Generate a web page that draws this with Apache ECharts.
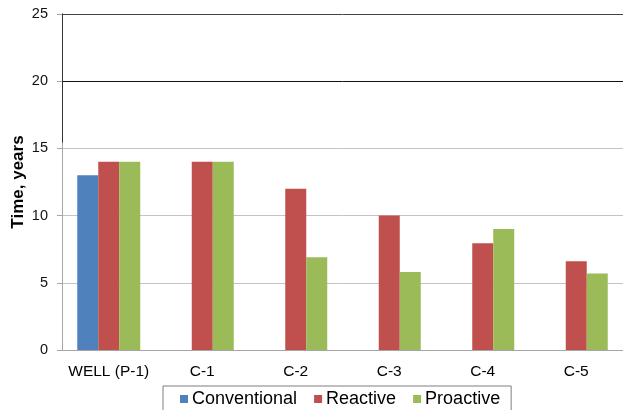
<!DOCTYPE html>
<html>
<head>
<meta charset="utf-8">
<script src="https://cdn.jsdelivr.net/npm/echarts@6/dist/echarts.min.js"></script>
<style>
  html, body { margin: 0; padding: 0; background: #fff; }
  #chart { width: 623px; height: 410px; }
</style>
</head>
<body>
<div id="chart"></div>
<script>
// Service time per location under three maintenance strategies
const categories = ['WELL (P-1)', 'C-1', 'C-2', 'C-3', 'C-4', 'C-5'];
const conventional = [13, null, null, null, null, null];
const reactive = [14, 14, 12, 10, 7.95, 6.6];
const proactive = [14, 14, 6.9, 5.8, 9, 5.7];
const yTicks = { min: 0, max: 25, interval: 5 };

const font = 'Liberation Sans, Arial, sans-serif';
const chart = echarts.init(document.getElementById('chart'));

const bar = (name, data, color) => ({
  name, type: 'bar', data,
  xAxisIndex: 0, yAxisIndex: 0,
  barGap: '0%', barWidth: 21,
  itemStyle: { color },
  emphasis: { disabled: true }
});

chart.setOption({
  animation: false,
  textStyle: { fontFamily: font },
  grid: [
    { left: 62, right: 0, top: 14, bottom: 60, outerBoundsMode: 'none', containLabel: false },
    // upper part of the value axis is drawn darker
    { left: 62, right: 0, top: 14, height: 128, outerBoundsMode: 'none', containLabel: false }
  ],
  legend: {
    left: 163, top: 386,
    padding: [4, 11, 16, 17],
    borderColor: '#7f7f7f', borderWidth: 1,
    itemWidth: 8, itemHeight: 8, itemGap: 17,
    icon: 'rect',
    textStyle: { fontSize: 18, color: '#000', fontFamily: font, padding: [0, 0, 0, -1] },
    data: ['Conventional', 'Reactive', 'Proactive']
  },
  xAxis: [
    {
      type: 'category', data: categories, gridIndex: 0,
      axisLine: { lineStyle: { color: '#a6a6a6', width: 1 } },
      axisTick: { show: false },
      axisLabel: { interval: 0, fontSize: 15.5, color: '#000', margin: 14, fontFamily: font }
    },
    { type: 'category', gridIndex: 1, show: false, data: categories }
  ],
  yAxis: [
    {
      type: 'value', gridIndex: 0,
      min: yTicks.min, max: yTicks.max, interval: yTicks.interval,
      name: 'Time, years', nameLocation: 'middle', nameGap: 35, nameMoveOverlap: false,
      nameTextStyle: { fontSize: 17, fontWeight: 'bold', color: '#000', fontFamily: font },
      axisLine: { show: true, lineStyle: { color: '#a6a6a6' } },
      axisTick: { show: true, length: 5, lineStyle: { color: '#a6a6a6' } },
      axisLabel: { fontSize: 14.5, color: '#111', margin: 14, fontFamily: font },
      splitLine: {
        show: true,
        lineStyle: { color: ['#c4c4c4', '#c4c4c4', '#c4c4c4', '#c4c4c4', '#111', '#444'], width: 1 }
      }
    },
    {
      type: 'value', gridIndex: 1, min: 0, max: 1,
      axisLine: { show: true, onZero: false, lineStyle: { color: '#333', width: 1 } },
      axisTick: { show: false }, axisLabel: { show: false }, splitLine: { show: false }
    }
  ],
  series: [
    bar('Conventional', conventional, '#4f81bd'),
    bar('Reactive', reactive, '#c0504d'),
    bar('Proactive', proactive, '#9bbb59')
  ]
});
</script>
</body>
</html>
